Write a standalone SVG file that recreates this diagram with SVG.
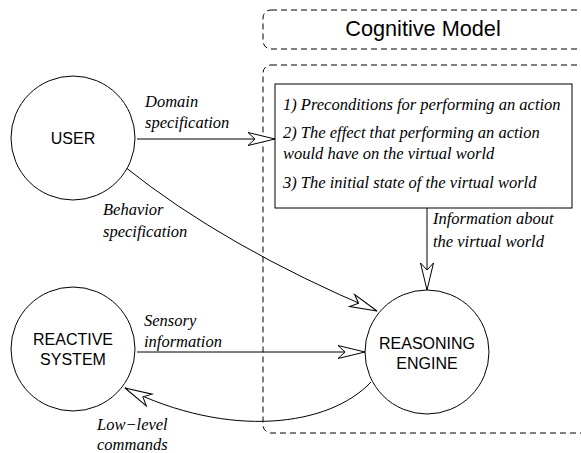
<svg xmlns="http://www.w3.org/2000/svg" width="581" height="453" viewBox="0 0 581 453">
<style>
.node{fill:#fff;stroke:#000;stroke-width:1}
.nlabel{font-family:"Liberation Sans",Arial,sans-serif;font-size:16px;fill:#000;text-anchor:middle}
.it{font-family:"Liberation Serif","Times New Roman",serif;font-style:italic;font-size:16.5px;fill:#000}
.dash{fill:none;stroke:#000;stroke-width:1;stroke-dasharray:6 4}
.edge{fill:none;stroke:#000;stroke-width:1}
</style>
<defs>
<marker id="arr" markerUnits="userSpaceOnUse" markerWidth="32" markerHeight="18" viewBox="-29 -9 32 18" refX="0" refY="0" orient="auto" overflow="visible">
<path d="M0,0 L-27,-6.5 L-20,0 L-27,6.5 Z" fill="#fff" stroke="#000" stroke-width="1" stroke-linejoin="miter"/>
</marker>
</defs>
<rect width="581" height="453" fill="#fff"/>
<g id="cognitive-model-title">
<rect class="dash" x="263" y="10" width="340" height="39" rx="8"/>
<text x="423" y="36" font-family="Liberation Sans,Arial,sans-serif" font-size="21.7" text-anchor="middle">Cognitive Model</text>
</g>
<g id="cognitive-model-area">
<rect class="dash" x="263" y="65" width="340" height="368" rx="8"/>
</g>
<g id="connectors">
<path class="edge" d="M137,139 L275,139" marker-end="url(#arr)"/>
<path class="edge" d="M427,208 L427,290" marker-end="url(#arr)"/>
<path class="edge" d="M125,167 Q225,247 377,311" marker-end="url(#arr)"/>
<path class="edge" d="M137,352 L365,352" marker-end="url(#arr)"/>
<path class="edge" d="M371,382 C330,426 230,440 125,388" marker-end="url(#arr)"/>
<text class="it" x="145" y="107">Domain</text>
<text class="it" x="145" y="128">specification</text>
<text class="it" x="103" y="215">Behavior</text>
<text class="it" x="103" y="237">specification</text>
<text class="it" x="433" y="224">Information about</text>
<text class="it" x="433" y="247">the virtual world</text>
<text class="it" x="144" y="326">Sensory</text>
<text class="it" x="144" y="347">information</text>
<text class="it" x="97" y="430">Low−level</text>
<text class="it" x="97" y="450">commands</text>
</g>
<g id="user">
<circle class="node" cx="73" cy="138" r="62"/>
<text class="nlabel" x="73" y="144">USER</text>
</g>
<g id="reactive-system">
<circle class="node" cx="73" cy="349" r="62"/>
<text class="nlabel" x="73" y="345">REACTIVE</text>
<text class="nlabel" x="73" y="365">SYSTEM</text>
</g>
<g id="reasoning-engine">
<circle class="node" cx="427" cy="352" r="62"/>
<text class="nlabel" x="427" y="349">REASONING</text>
<text class="nlabel" x="427" y="369">ENGINE</text>
</g>
<g id="knowledge-box">
<rect class="node" x="275" y="84" width="297" height="124"/>
<text class="it" x="283" y="110">1) Preconditions for performing an action</text>
<text class="it" x="283" y="138">2) The effect that performing an action</text>
<text class="it" x="283" y="159">would have on the virtual world</text>
<text class="it" x="283" y="188">3) The initial state of the virtual world</text>
</g>
</svg>
